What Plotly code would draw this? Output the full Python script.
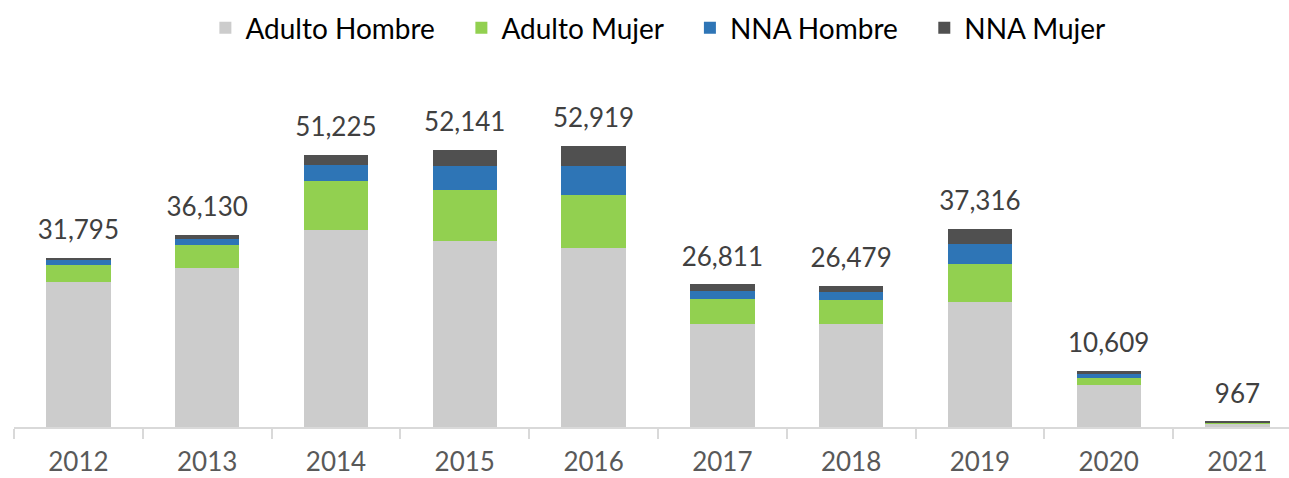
import plotly.graph_objects as go

years = ["2012", "2013", "2014", "2015", "2016", "2017", "2018", "2019", "2020", "2021"]
adulto_hombre = [27300, 29900, 37100, 34900, 33700, 19400, 19400, 23500, 7900, 700]
adulto_mujer = [3170, 4330, 9200, 9650, 9900, 4650, 4500, 7150, 1300, 150]
nna_hombre = [940, 1190, 3000, 4600, 5550, 1550, 1450, 3750, 800, 70]
nna_mujer = [385, 710, 1925, 2991, 3769, 1211, 1129, 2916, 609, 47]
totals = [31795, 36130, 51225, 52141, 52919, 26811, 26479, 37316, 10609, 967]

series = [
    ("Adulto Hombre", adulto_hombre, "#cccccc"),
    ("Adulto Mujer", adulto_mujer, "#92d050"),
    ("NNA Hombre", nna_hombre, "#2e75b6"),
    ("NNA Mujer", nna_mujer, "#505050"),
]

FONT = "Lato, Open Sans, sans-serif"
PAD = "\u00a0" * 3
Y_MAX = 69000
LABEL_LIFT = 2300  # visual lift of total labels (axis offset only)

fig = go.Figure()
for i, (name, vals, color) in enumerate(series):
    fig.add_trace(go.Bar(
        x=years, y=vals, name=name + (PAD if i < len(series) - 1 else ""),
        marker=dict(color=color, line=dict(width=0)),
    ))

fig.add_trace(go.Scatter(
    x=years, y=totals, mode="text",
    text=[f"{t:,}" for t in totals], textposition="top center",
    textfont=dict(family=FONT, size=26, color="#404040"),
    yaxis="y2", showlegend=False, hoverinfo="skip", cliponaxis=False,
))

fig.update_layout(
    barmode="stack",
    bargap=0.5,
    width=1289, height=478,
    margin=dict(l=14, r=0, t=60, b=51, autoexpand=False),
    plot_bgcolor="white", paper_bgcolor="white",
    font=dict(family=FONT),
    legend=dict(
        orientation="h", x=0.505, xanchor="center", y=1.087, yanchor="middle",
        font=dict(family=FONT, size=28, color="#000000"),
        itemwidth=30, traceorder="normal",
    ),
    xaxis=dict(
        type="category", range=[-0.5, 9.4], automargin=False,
        showline=True, linecolor="#d9d9d9", linewidth=1.5,
        ticks="outside", tickson="boundaries", ticklen=10, tickcolor="#d9d9d9", tickwidth=1.5,
        ticklabelstandoff=11,
        tickfont=dict(family=FONT, size=26, color="#595959"),
        showgrid=False,
    ),
    yaxis=dict(range=[0, Y_MAX], showgrid=False, showticklabels=False, automargin=False,
               showline=False, zeroline=False, ticks=""),
    yaxis2=dict(range=[-LABEL_LIFT, Y_MAX - LABEL_LIFT], overlaying="y", visible=False,
                showgrid=False, zeroline=False),
)

fig.write_html("out.html", config={"displayModeBar": False},
               post_script="document.body.style.margin='0';document.body.style.padding='0';")
